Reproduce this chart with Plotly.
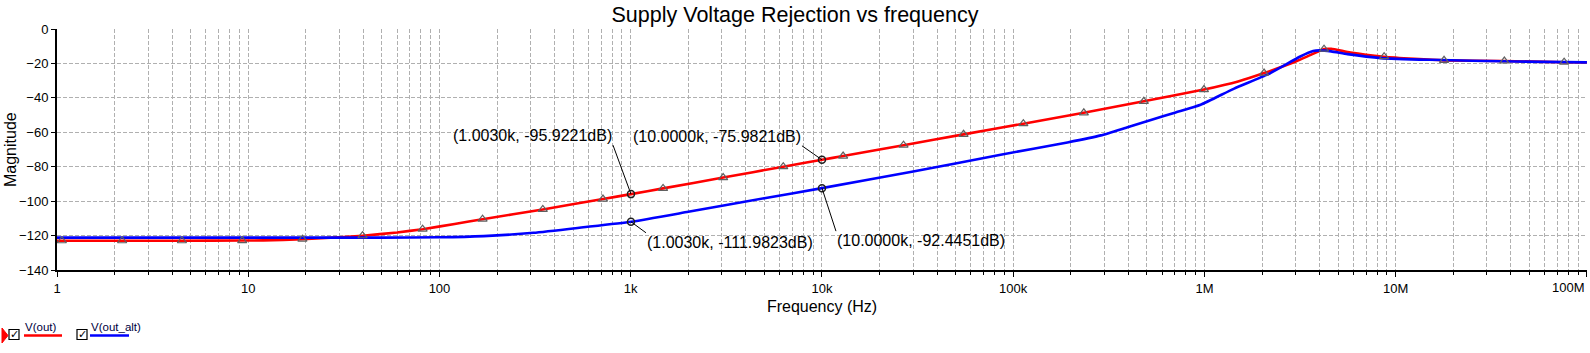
import math
import plotly.graph_objects as go

# ---------------- data ----------------
red_freq = [1, 1.06, 2.19, 4.5, 9.3, 12, 19.2, 30, 39.6, 60, 81.6, 120, 168, 347, 716, 1003,
            1476, 3043, 6275, 10000, 12900, 26700, 55000, 113000, 234000, 482000, 994000,
            1500000, 2050000, 3000000, 3600000, 4220000, 4600000, 5800000, 8700000,
            12500000, 17900000, 37000000, 76000000, 100000000]
red_db = [-123.0, -123.0, -123.0, -123.0, -122.9, -122.8, -122.1, -121.0, -120.1, -118.2,
          -116.3, -113.3, -110.5, -104.8, -98.8, -95.92, -92.6, -86.3, -80.0, -75.98, -73.8,
          -67.5, -61.2, -55.0, -48.7, -42.0, -35.2, -30.5, -25.6, -18.9, -15.0, -11.7, -11.5,
          -13.7, -16.1, -17.3, -18.2, -18.6, -19.3, -19.5]

blue_freq = [1, 10, 50, 100, 170, 310, 565, 1003, 2000, 5000, 10000, 30000, 86000, 192000,
             287000, 400000, 525000, 700000, 955000, 1430000, 2140000, 3170000, 3700000,
             4000000, 4600000, 5600000, 8400000, 15000000, 42000000, 100000000]
blue_db = [-121.2, -121.2, -121.2, -121.0, -120.3, -118.4, -115.2, -111.98, -106.2, -98.3,
           -92.45, -82.8, -73.0, -65.9, -61.8, -56.9, -52.9, -48.6, -44.0, -34.6, -26.4,
           -16.0, -12.8, -12.4, -13.0, -14.6, -16.9, -17.9, -18.9, -19.4]

marker_freq = [1.06, 2.19, 4.5, 9.3, 19.2, 39.6, 81.6, 168, 347, 716, 1476, 3043, 6275, 12900,
               26700, 55000, 113000, 234000, 482000, 994000, 2050000, 4220000, 8700000,
               17900000, 37000000, 76000000]
marker_db = [-123.0, -123.0, -123.0, -122.9, -122.1, -120.1, -116.3, -110.5, -104.8, -98.8,
             -92.6, -86.3, -80.0, -73.8, -67.5, -61.2, -55.0, -48.7, -42.0, -35.2, -25.6,
             -11.7, -16.1, -18.2, -18.6, -19.3]

cursor_freq = [1003, 10000]
cursor_red_db = [-95.9221, -75.9821]
cursor_blue_db = [-111.9823, -92.4451]
cursor_red_text = ["(1.0030k, -95.9221dB)", "(10.0000k, -75.9821dB)"]
cursor_blue_text = ["(1.0030k, -111.9823dB)", "(10.0000k, -92.4451dB)"]

x_tick_vals = [1, 10, 100, 1e3, 1e4, 1e5, 1e6, 1e7, 1e8]
x_tick_text = ["1", "10", "100", "1k", "10k", "100k", "1M", "10M", "100M"]
y_tick_vals = [0, -20, -40, -60, -80, -100, -120, -140]

title_text = "Supply Voltage Rejection vs frequency"
x_title = "Frequency (Hz)"
y_title = "Magnitude"
legend_names = ["V(out)", "V(out_alt)"]

# ---------------- layout helpers ----------------
W, H = 1590, 353
L, R, T, B = 57, 3, 29, 83
PW, PH = W - L - R, H - T - B


def px(x):
    return (x - L) / PW


def py(y):
    return (H - B - y) / PH


FONT = "Arial, 'Liberation Sans', sans-serif"
GRID = "#b0b0b0"

minor_vals = [m * 10 ** k for k in range(0, 8) for m in range(2, 10)]

fig = go.Figure()
fig.add_trace(go.Scatter(x=red_freq, y=red_db, mode="lines", name=legend_names[0],
                         line=dict(color="#ff0000", width=2.6, shape="spline", smoothing=0.5)))
fig.add_trace(go.Scatter(x=blue_freq, y=blue_db, mode="lines", name=legend_names[1],
                         line=dict(color="#0000ff", width=2.6, shape="spline", smoothing=0.5)))
fig.add_trace(go.Scatter(x=marker_freq, y=marker_db, mode="markers", showlegend=False,
                         marker=dict(symbol="triangle-up-open", size=8, color="#606060",
                                     line=dict(width=1.2, color="#606060"))))
fig.add_trace(go.Scatter(x=cursor_freq + cursor_freq, y=cursor_red_db + cursor_blue_db,
                         mode="markers", showlegend=False,
                         marker=dict(symbol="circle-open", size=7, color="#202020",
                                     line=dict(width=1.5, color="#202020"))))

annots = []
# cursor labels with leader lines (x given in log10 units on a log axis)
specs = [
    (cursor_freq[0], cursor_red_db[0], cursor_red_text[0], -18, -49, "right", "bottom"),
    (cursor_freq[1], cursor_red_db[1], cursor_red_text[1], -20, -14, "right", "bottom"),
    (cursor_freq[0], cursor_blue_db[0], cursor_blue_text[0], 15, 11, "left", "top"),
    (cursor_freq[1], cursor_blue_db[1], cursor_blue_text[1], 14, 43, "left", "top"),
]
for fx, fy, txt, ax, ay, xa, ya in specs:
    annots.append(dict(x=math.log10(fx), y=fy, xref="x", yref="y", text=txt, showarrow=True,
                       arrowhead=0, arrowwidth=1, arrowcolor="black", ax=ax, ay=ay,
                       xanchor=xa, yanchor=ya, borderpad=0,
                       font=dict(family=FONT, size=16, color="black")))

# last x tick label, right-aligned so it fits inside the page
annots.append(dict(x=1.0, y=py(287), xref="paper", yref="paper", text=x_tick_text[-1],
                   showarrow=False, xanchor="right", yanchor="middle",
                   font=dict(family=FONT, size=13, color="black")))

# y-axis title
annots.append(dict(x=px(10), y=py(150), xref="paper", yref="paper", text=y_title,
                   textangle=-90, showarrow=False, xanchor="center", yanchor="middle",
                   font=dict(family=FONT, size=16, color="black")))

# legend entries
leg_text_x = [23, 89]
leg_line_x = [(24, 62), (90, 129)]
leg_box_x = [9, 77]
leg_colors = ["#ff0000", "#0000ff"]
shapes = []
for i in range(2):
    annots.append(dict(x=px(leg_text_x[i]), y=py(327), xref="paper", yref="paper",
                       text=legend_names[i], showarrow=False, xanchor="left",
                       yanchor="middle", font=dict(family=FONT, size=11.5, color="#000040")))
    shapes.append(dict(type="line", xref="paper", yref="paper",
                       x0=px(leg_line_x[i][0]), x1=px(leg_line_x[i][1]),
                       y0=py(335.5), y1=py(335.5),
                       line=dict(color=leg_colors[i], width=2.5)))
    shapes.append(dict(type="rect", xref="paper", yref="paper",
                       x0=px(leg_box_x[i]), x1=px(leg_box_x[i] + 10),
                       y0=py(339.5), y1=py(329.5),
                       line=dict(color="black", width=1.2), fillcolor="white"))
    annots.append(dict(x=px(leg_box_x[i] + 5.5), y=py(334), xref="paper", yref="paper",
                       text="✓", showarrow=False, xanchor="center", yanchor="middle",
                       font=dict(family="DejaVu Sans", size=11, color="black")))

# red pointer on the left edge
shapes.append(dict(type="path", xref="paper", yref="paper",
                   path=f"M {px(2)},{py(328)} L {px(8)},{py(335.5)} L {px(2)},{py(343)} Z",
                   fillcolor="#ff0000", line=dict(color="#ff0000", width=1)))

fig.update_layout(
    width=W, height=H,
    margin=dict(l=L, r=R, t=T, b=B, autoexpand=False),
    paper_bgcolor="white", plot_bgcolor="white",
    showlegend=False,
    title=dict(text=title_text, x=0.5, xref="container", xanchor="center",
               y=1 - 14 / H, yref="container", yanchor="middle",
               font=dict(family=FONT, size=21.5, color="black")),
    annotations=annots,
    shapes=shapes,
    font=dict(family=FONT, color="black"),
)

fig.update_xaxes(
    type="log", range=[0, 8.0004], tickmode="array", tickvals=x_tick_vals,
    ticktext=x_tick_text[:-1] + [""],
    showline=True, linecolor="black", linewidth=2, mirror=False,
    ticks="outside", ticklen=5, tickwidth=1, tickcolor="black",
    showgrid=True, gridcolor=GRID, gridwidth=1, griddash="4px,2px",
    tickfont=dict(family=FONT, size=13, color="black"),
    zeroline=False,
    minor=dict(tickmode="array", tickvals=minor_vals, ticks="outside", ticklen=3,
               tickcolor="black", showgrid=True, gridcolor=GRID, gridwidth=1,
               griddash="4px,2px"),
    title=dict(text=x_title, font=dict(family=FONT, size=16, color="black"), standoff=6),
)
fig.update_yaxes(
    range=[-140, 0], tickmode="array", tickvals=y_tick_vals,
    showline=True, linecolor="black", linewidth=2,
    ticks="outside", ticklen=4, tickwidth=1, tickcolor="black",
    showgrid=True, gridcolor=GRID, gridwidth=1, griddash="4px,2px",
    tickfont=dict(family=FONT, size=13, color="black"),
    zeroline=False,
)

fig.write_html("out.html")
